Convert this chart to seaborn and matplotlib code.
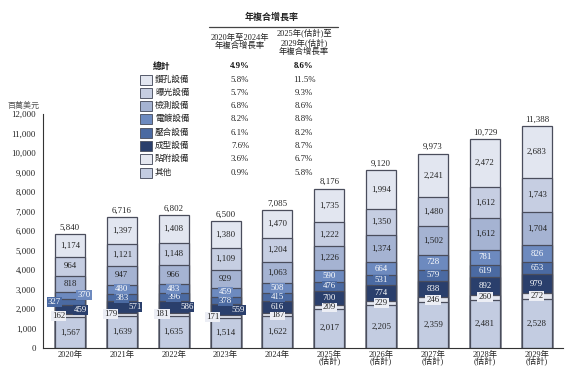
import numpy as np
import pandas as pd
import matplotlib
matplotlib.use("Agg")
import matplotlib.pyplot as plt
import seaborn as sns

sns.set_theme(style="white")
plt.rcParams["font.family"] = ["Liberation Serif", "Noto Sans CJK TC", "DejaVu Sans"]

# ---- data (US$ million) ----
years = ["2020年", "2021年", "2022年", "2023年", "2024年",
         "2025年\n(估計)", "2026年\n(估計)", "2027年\n(估計)", "2028年\n(估計)", "2029年\n(估計)"]
other = [1567, 1639, 1635, 1514, 1622, 2017, 2205, 2359, 2481, 2528]
attach = [162, 179, 181, 171, 187, 209, 229, 246, 260, 272]
molding = [459, 571, 586, 559, 616, 700, 774, 838, 892, 979]
pressing = [327, 383, 396, 378, 415, 476, 531, 579, 619, 653]
plating = [370, 480, 483, 459, 508, 590, 664, 728, 781, 826]
inspection = [818, 947, 966, 929, 1063, 1226, 1374, 1502, 1612, 1704]
exposure = [964, 1121, 1148, 1109, 1204, 1222, 1350, 1480, 1612, 1743]
drilling = [1174, 1397, 1408, 1380, 1470, 1735, 1994, 2241, 2472, 2683]
totals = [5840, 6716, 6802, 6500, 7085, 8176, 9120, 9973, 10729, 11388]

segment_names = ["鑽孔設備", "曝光設備", "檢測設備", "電鍍設備", "壓合設備", "成型設備", "貼附設備", "其他"]
cagr_hist = ["5.8%", "5.7%", "6.8%", "8.2%", "6.1%", "7.6%", "3.6%", "0.9%"]
cagr_fcst = ["11.5%", "9.3%", "8.6%", "8.8%", "8.2%", "8.7%", "6.7%", "5.8%"]
total_cagr = ("4.9%", "8.6%")

# bottom-to-top stacking order
stack = [other, attach, molding, pressing, plating, inspection, exposure, drilling]
stack_names = ["其他", "貼附設備", "成型設備", "壓合設備", "電鍍設備", "檢測設備", "曝光設備", "鑽孔設備"]

colors = {
    "鑽孔設備": "#e2e6f0",
    "曝光設備": "#c6cee2",
    "檢測設備": "#a5b3d2",
    "電鍍設備": "#6d8abf",
    "壓合設備": "#4b6aa2",
    "成型設備": "#2a3f6c",
    "貼附設備": "#e4e7f0",
    "其他": "#c3cce1",
}
white_text = {"電鍍設備", "壓合設備", "成型設備"}

# label nudges for the thin segments of the early years
nudge = {
    "電鍍設備": {0: 0.27},
    "壓合設備": {0: -0.3},
    "成型設備": {0: 0.2, 1: 0.25, 2: 0.25, 3: 0.25},
    "貼附設備": {0: -0.22, 1: -0.22, 2: -0.22, 3: -0.25},
}

fig = plt.figure(figsize=(5.65, 3.69), dpi=100)
ax = fig.add_axes([0.076, 0.057, 0.92, 0.634])

cum = np.cumsum(np.array(stack), axis=0)
df = pd.DataFrame({"year": years})
edge = "#4a4d5c"
# draw cumulative bars from the top layer down so lower layers sit in front
for i in range(len(stack) - 1, -1, -1):
    df["v"] = cum[i]
    sns.barplot(data=df, x="year", y="v", order=years, color=colors[stack_names[i]],
                saturation=1, width=0.58, edgecolor=edge, linewidth=0.9, ax=ax)

# segment labels
for i, name in enumerate(stack_names):
    vals = stack[i]
    base = cum[i] - np.array(vals)
    for j, v in enumerate(vals):
        yc = base[j] + v / 2
        dx = nudge.get(name, {}).get(j, 0.0)
        tc = "white" if name in white_text else "#222222"
        bbox = None
        if name == "貼附設備":
            bbox = dict(boxstyle="square,pad=0.12", fc="#eceef5", ec="none")
        elif name in nudge:
            bbox = dict(boxstyle="square,pad=0.12", fc=colors[name], ec="none")
        ax.text(j + dx, yc, f"{v:,}", ha="center", va="center", fontsize=6.3,
                color=tc, bbox=bbox, zorder=5)

# totals above bars
for j, t in enumerate(totals):
    ax.text(j, t + 120, f"{t:,}", ha="center", va="bottom", fontsize=6.3, color="#222222")

ax.set_xlim(-0.52, 9.5)
ax.set_ylim(0, 12000)
ax.set_yticks(np.arange(0, 12001, 1000))
ax.set_yticklabels([f"{v:,}" for v in range(0, 12001, 1000)], fontsize=6.3, color="#222222")
ax.set_xticks(range(len(years)))
ax.set_xticklabels(years, fontsize=6.0, color="#222222", linespacing=0.82)
ax.set_xlabel("")
ax.set_ylabel("")
for s in ["top", "right"]:
    ax.spines[s].set_visible(False)
for s in ["left", "bottom"]:
    ax.spines[s].set_color("#333333")
    ax.spines[s].set_linewidth(0.8)
ax.tick_params(axis="y", direction="out", length=3, width=0.7, color="#333333", pad=2)
ax.tick_params(axis="x", length=0, pad=2)

fig.text(24 / 565, 1 - 106 / 369, "百萬美元", ha="center", va="center", fontsize=5.8,
         color="#555555", style="italic")

# CAGR table
def fx(px):
    return px / 565

def fy(py):
    return 1 - py / 369

fig.text(fx(272), fy(17), "年複合增長率", ha="center", va="center", fontsize=6.5,
         fontweight="bold", color="#222222")
fig.add_artist(plt.Line2D([fx(209), fx(338)], [fy(27), fy(27)], color="#444444", lw=0.9))
fig.text(fx(240), fy(42), "2020年至2024年\n年複合增長率", ha="center", va="center",
         fontsize=6.0, color="#222222", linespacing=1.05)
fig.text(fx(304), fy(43), "2025年(估計)至\n2029年(估計)\n年複合增長率", ha="center", va="center",
         fontsize=6.0, color="#222222", linespacing=1.05)

rows_y = [80, 93, 106, 119, 133, 146, 159, 173]
fig.text(fx(162), fy(66), "總計", ha="center", va="center", fontsize=6.3,
         fontweight="bold", color="#111111")
fig.text(fx(240), fy(66), total_cagr[0], ha="center", va="center", fontsize=6.3,
         fontweight="bold", color="#111111")
fig.text(fx(304), fy(66), total_cagr[1], ha="center", va="center", fontsize=6.3,
         fontweight="bold", color="#111111")
for name, h, f, py in zip(segment_names, cagr_hist, cagr_fcst, rows_y):
    fig.add_artist(plt.Rectangle((fx(140), fy(py + 5)), fx(12), 10 / 369,
                                 facecolor=colors[name], edgecolor="#555a6a", lw=0.7))
    fig.text(fx(155), fy(py), name, ha="left", va="center", fontsize=6.2, color="#222222")
    fig.text(fx(240), fy(py), h, ha="center", va="center", fontsize=6.3, color="#222222")
    fig.text(fx(304), fy(py), f, ha="center", va="center", fontsize=6.3, color="#222222")

fig.savefig("out.png", dpi=100)
